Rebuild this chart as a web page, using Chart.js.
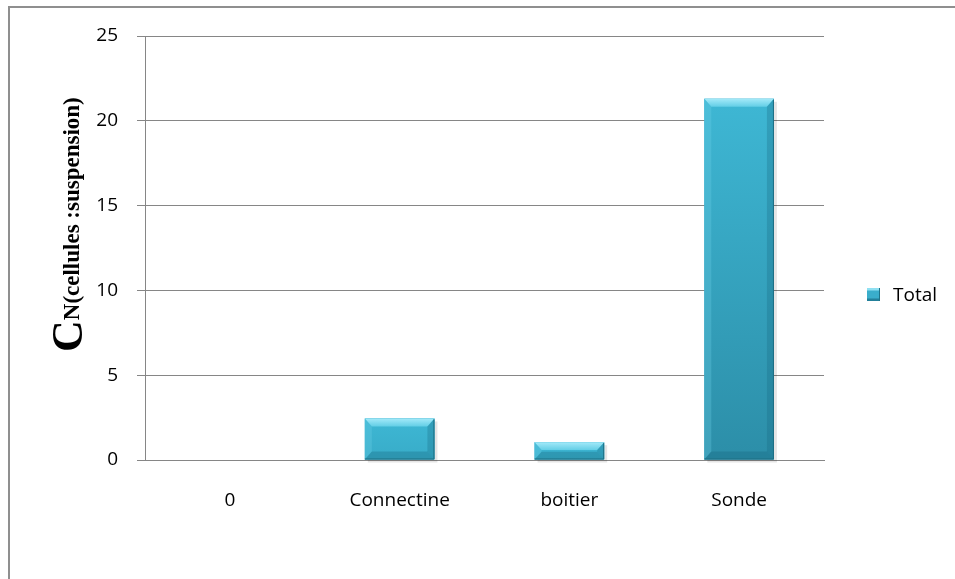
<!DOCTYPE html>
<html>
<head>
<meta charset="utf-8">
<script src="https://cdn.jsdelivr.net/npm/chart.js@4/dist/chart.umd.min.js"></script>
<style>
  html, body { margin: 0; padding: 0; background: #fff; overflow: hidden; }
  #wrap { position: relative; width: 955px; height: 579px; }
  #frame { position: absolute; left: 8px; top: 6px; width: 1000px; height: 700px; border: 2px solid #8f8f8f; box-sizing: border-box; }
  #yTitle {
    position: absolute; left: 46px; top: 352px; white-space: nowrap;
    transform: rotate(-90deg); transform-origin: left top;
    font-family: "Liberation Serif", serif; font-weight: bold; line-height: 1; color: #000;
  }
  #yTitle .big { font-size: 44px; }
  #yTitle .small { font-size: 23px; position: relative; top: -3px; }
  #legend { position: absolute; left: 867px; top: 281px; font-family: "Open Sans", sans-serif; font-size: 19px; color: #000; display: flex; align-items: center; }
  #legend .box { width: 13px; height: 13px; margin-right: 13px; box-sizing: border-box;
    background: linear-gradient(#8fe0f2 0, #8fe0f2 2px, #3aaecb 3px, #3aaecb 10px, #23809a 11px);
    border-right: 1px solid #1f7388; }
</style>
</head>
<body>
<div id="wrap">
  <canvas id="chart" width="955" height="579"></canvas>
  <div id="frame"></div>
  <div id="yTitle"><span class="big">C</span><span class="small">N(cellules :suspension)</span></div>
  <div id="legend"><div class="box"></div><span>Total</span></div>
</div>
<script>
const categories = ['0', 'Connectine', 'boitier', 'Sonde'];
const totalValues = [0, 2.45, 1.05, 21.3];
const yTicks = [0, 5, 10, 15, 20, 25];

function mix(a, b, f) {
  const pa = a.match(/\w\w/g).map(h => parseInt(h, 16));
  const pb = b.match(/\w\w/g).map(h => parseInt(h, 16));
  return 'rgb(' + pa.map((v, i) => Math.round(v + (pb[i] - v) * f)).join(',') + ')';
}

// Excel-like bevelled bars painted over the bar element geometry
const bevelPlugin = {
  id: 'bevel',
  beforeDatasetsDraw(chart) {
    const ctx = chart.ctx;
    const meta = chart.getDatasetMeta(0);
    ctx.save();
    ctx.fillStyle = 'rgba(0,0,0,0.10)';
    meta.data.forEach(bar => {
      const h = bar.base - bar.y;
      if (h < 1) return;
      ctx.fillRect(bar.x - bar.width / 2 + 3, bar.y + 3, bar.width, h);
    });
    ctx.restore();
  },
  afterDatasetsDraw(chart) {
    const ctx = chart.ctx;
    const meta = chart.getDatasetMeta(0);
    meta.data.forEach(bar => {
      const h = bar.base - bar.y;
      if (h < 1) return;
      const l = bar.x - bar.width / 2, r = bar.x + bar.width / 2;
      const t = bar.y, b = bar.base;
      const k = Math.min(8, h / 2.2);
      const ks = Math.min(7, h / 2.2);
      const f = Math.min(1, h / 330);
      ctx.save();
      // face
      const fg = ctx.createLinearGradient(0, t, 0, b);
      fg.addColorStop(0, '#3eb7d4');
      fg.addColorStop(1, mix('3ab0cc', '2c8ea8', f));
      ctx.fillStyle = fg;
      ctx.fillRect(l, t, r - l, h);
      // top
      const g = ctx.createLinearGradient(0, t, 0, t + k);
      g.addColorStop(0, '#a4eaf9');
      g.addColorStop(1, '#62cee6');
      ctx.fillStyle = g;
      ctx.beginPath();
      ctx.moveTo(l, t); ctx.lineTo(r, t); ctx.lineTo(r - ks, t + k); ctx.lineTo(l + ks, t + k); ctx.closePath();
      ctx.fill();
      // left
      ctx.fillStyle = 'rgba(110,210,232,0.30)';
      ctx.beginPath();
      ctx.moveTo(l, t); ctx.lineTo(l + ks, t + k); ctx.lineTo(l + ks, b - k); ctx.lineTo(l, b); ctx.closePath();
      ctx.fill();
      // right
      ctx.fillStyle = 'rgba(20,100,125,0.28)';
      ctx.beginPath();
      ctx.moveTo(r, t); ctx.lineTo(r - ks, t + k); ctx.lineTo(r - ks, b - k); ctx.lineTo(r, b); ctx.closePath();
      ctx.fill();
      // bottom
      ctx.fillStyle = 'rgba(20,95,118,0.30)';
      ctx.beginPath();
      ctx.moveTo(l, b); ctx.lineTo(r, b); ctx.lineTo(r - ks, b - k); ctx.lineTo(l + ks, b - k); ctx.closePath();
      ctx.fill();
      // dark edge
      ctx.strokeStyle = '#1d6e83';
      ctx.lineWidth = 1;
      ctx.beginPath();
      ctx.moveTo(r - 0.5, t + 1); ctx.lineTo(r - 0.5, b - 0.5); ctx.lineTo(l, b - 0.5);
      ctx.stroke();
      ctx.restore();
    });
  }
};

new Chart(document.getElementById('chart'), {
  type: 'bar',
  data: {
    labels: categories,
    datasets: [{
      label: 'Total',
      data: totalValues,
      backgroundColor: '#3aaecb',
      borderWidth: 0,
      barPercentage: 0.41,
      categoryPercentage: 1
    }]
  },
  options: {
    responsive: false,
    animation: false,
    layout: { padding: { top: 36, right: 131, left: 0, bottom: 0 } },
    plugins: { legend: { display: false }, tooltip: { enabled: false } },
    scales: {
      x: {
        grid: { display: false, drawTicks: false },
        border: { color: '#868686', width: 1 },
        ticks: { color: '#000', font: { family: 'Open Sans', size: 19 }, padding: 29 },
        afterFit: (s) => { s.height = 119; }
      },
      y: {
        min: 0,
        max: 25,
        afterBuildTicks: (s) => { s.ticks = yTicks.map(v => ({ value: v })); },
        grid: { color: '#868686', tickLength: 8, tickColor: '#868686' },
        border: { color: '#868686', width: 1 },
        ticks: { color: '#000', font: { family: 'Open Sans', size: 19 }, padding: 19 },
        afterFit: (s) => { s.width = 145; }
      }
    }
  },
  plugins: [bevelPlugin]
});
</script>
</body>
</html>
